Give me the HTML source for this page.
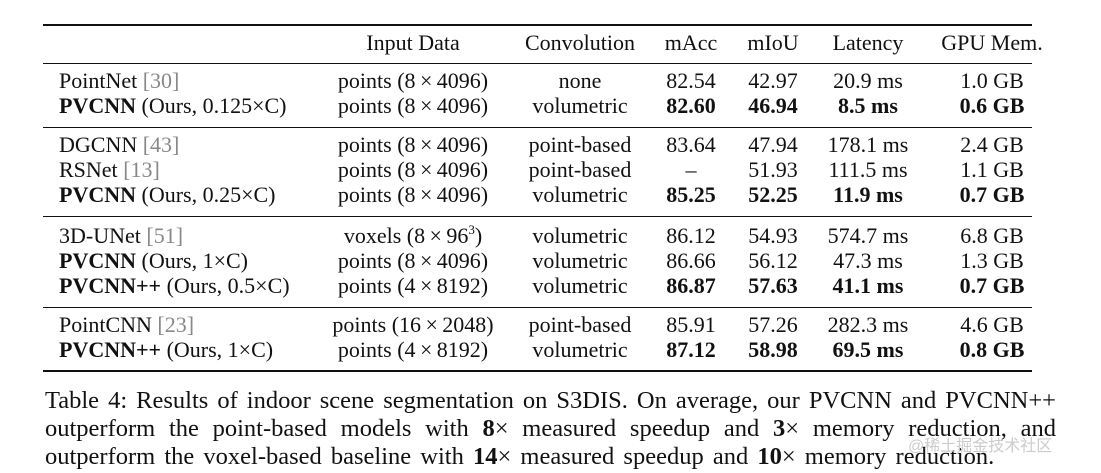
<!DOCTYPE html>
<html><head><meta charset="utf-8"><style>
body{margin:0;width:1101px;height:473px;background:#fff;overflow:hidden;position:relative;font-family:"Liberation Serif",serif;color:#111}
.c{position:absolute;font-size:22px;line-height:24px;white-space:nowrap}
.ctr{transform:translateX(-50%)}
.r{position:absolute;left:43px;width:989px;background:#111}
b{font-weight:bold}
.ref{color:#888}
sup{font-size:13px;line-height:0;vertical-align:9px}
.cap{position:absolute;left:45px;width:1011px;font-size:24.5px;line-height:28px;white-space:nowrap}
.j{text-align:justify;text-align-last:justify}
.wm{position:absolute;left:908px;top:432px;font-size:16px;color:#ccc;font-family:"Liberation Sans","Noto Sans CJK SC",sans-serif}
</style></head><body>
<div id="tbl"></div>
<div class="r" style="top:24px;height:2px"></div>
<div class="r" style="top:63px;height:1px"></div>
<div class="r" style="top:127px;height:1px"></div>
<div class="r" style="top:216px;height:1px"></div>
<div class="r" style="top:307px;height:1px"></div>
<div class="r" style="top:370px;height:2px"></div>
<div class="cap j" style="top:387px">Table 4: Results of indoor scene segmentation on S3DIS. On average, our PVCNN and PVCNN++</div>
<div class="cap j" style="top:415px">outperform the point-based models with <b>8</b>× measured speedup and <b>3</b>× memory reduction, and</div>
<div class="cap" style="top:443px;word-spacing:3px">outperform the voxel-based baseline with <b>14</b>× measured speedup and <b>10</b>× memory reduction.</div>
<div class="wm">@稀土掘金技术社区</div>
<script>
const headers=["Input Data","Convolution","mAcc","mIoU","Latency","GPU Mem."];
const methods=['PointNet <span class="ref">[30]</span>','<b>PVCNN</b> (Ours, 0.125×C)','DGCNN <span class="ref">[43]</span>','RSNet <span class="ref">[13]</span>','<b>PVCNN</b> (Ours, 0.25×C)','3D-UNet <span class="ref">[51]</span>','<b>PVCNN</b> (Ours, 1×C)','<b>PVCNN++</b> (Ours, 0.5×C)','PointCNN <span class="ref">[23]</span>','<b>PVCNN++</b> (Ours, 1×C)'];
const inputs=["points (8\u2009×\u20094096)","points (8\u2009×\u20094096)","points (8\u2009×\u20094096)","points (8\u2009×\u20094096)","points (8\u2009×\u20094096)","voxels (8\u2009×\u200996<sup>3</sup>)","points (8\u2009×\u20094096)","points (4\u2009×\u20098192)","points (16\u2009×\u20092048)","points (4\u2009×\u20098192)"];
const convs=["none","volumetric","point-based","point-based","volumetric","volumetric","volumetric","volumetric","point-based","volumetric"];
const macc=["82.54","82.60","83.64","–","85.25","86.12","86.66","86.87","85.91","87.12"];
const miou=["42.97","46.94","47.94","51.93","52.25","54.93","56.12","57.63","57.26","58.98"];
const lat=["20.9 ms","8.5 ms","178.1 ms","111.5 ms","11.9 ms","574.7 ms","47.3 ms","41.1 ms","282.3 ms","69.5 ms"];
const mem=["1.0 GB","0.6 GB","2.4 GB","1.1 GB","0.7 GB","6.8 GB","1.3 GB","0.7 GB","4.6 GB","0.8 GB"];
const boldRow=[false,true,false,false,true,false,false,true,false,true];
const rowY=[82,107,146,171,196,237,262,287,326,351];
const colX=[413,580,691,773,868,992];
const t=document.getElementById('tbl');
function cell(html,x,y,center,bold){
  const d=document.createElement('div');
  d.className='c'+(center?' ctr':'');
  d.style.left=x+'px';d.style.top=(y-13)+'px';
  d.innerHTML=bold?'<b>'+html+'</b>':html;
  
  
  t.appendChild(d);
}
headers.forEach((h,i)=>cell(h,colX[i],44,true,false));
methods.forEach((m,i)=>{
  const y=rowY[i];
  cell(m,59,y,false,false);
  cell(inputs[i],colX[0],y,true,false);
  cell(convs[i],colX[1],y,true,false);
  cell(macc[i],colX[2],y,true,boldRow[i]);
  cell(miou[i],colX[3],y,true,boldRow[i]);
  cell(lat[i],colX[4],y,true,boldRow[i]);
  cell(mem[i],colX[5],y,true,boldRow[i]);
});
</script>
</body></html>
